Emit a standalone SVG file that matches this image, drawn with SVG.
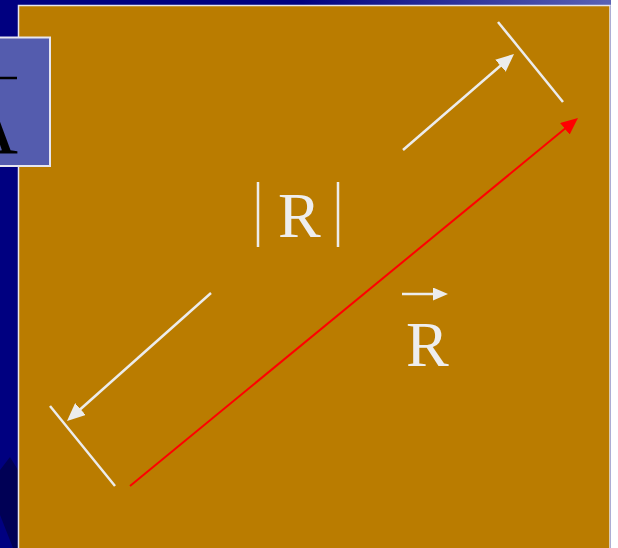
<svg xmlns="http://www.w3.org/2000/svg" width="618" height="548" viewBox="0 0 618 548">
  <defs>
    <linearGradient id="topGrad" x1="0" y1="0" x2="1" y2="0">
      <stop offset="0" stop-color="#000080"/>
      <stop offset="1" stop-color="#5A62B4"/>
    </linearGradient>
    <marker id="whiteHead" viewBox="0 0 18 16" refX="10" refY="8" markerWidth="18" markerHeight="16" markerUnits="userSpaceOnUse" orient="auto">
      <path d="M0,0 L18,8 L0,16 z" fill="#ECECEC"/>
    </marker>
    <marker id="smallHead" viewBox="0 0 15 13" refX="8" refY="6.5" markerWidth="15" markerHeight="13" markerUnits="userSpaceOnUse" orient="auto">
      <path d="M0,0 L15,6.5 L0,13 z" fill="#ECECEC"/>
    </marker>
    <marker id="redHead" viewBox="0 0 17 15" refX="9" refY="7.5" markerWidth="17" markerHeight="15" markerUnits="userSpaceOnUse" orient="auto">
      <path d="M0,0 L17,7.5 L0,15 z" fill="#FF0000"/>
    </marker>
  </defs>
  <style>
    .wline { stroke: #ECECEC; stroke-width: 2.5; fill: none; }
    .rline { stroke: #FF0000; stroke-width: 2; fill: none; }
    .label { font-family: "Liberation Serif", "Times New Roman", serif; font-size: 64px; fill: #EEEEEE; }
  </style>

  <!-- background -->
  <rect x="0" y="0" width="618" height="548" fill="#FFFFFF"/>
  <rect x="0" y="0" width="611" height="548" fill="#000080"/>
  <polygon points="300,0 611,0 611,6 306,6" fill="url(#topGrad)"/>
  <polygon points="10,457 18,470 18,548 13,548 0,515 0,470" fill="#000055"/>

  <!-- main panel -->
  <g id="panel">
    <rect x="18.5" y="5.5" width="591.5" height="560" fill="#BA7C00" stroke="#E6E6EE" stroke-width="1.5"/>
  </g>

  <!-- corner box with A (partly off the left edge, as in the reference) -->
  <g id="boxA">
    <rect x="-2" y="37.5" width="52" height="128.5" fill="#545CAE" stroke="#E6E6F0" stroke-width="2"/>
    <line x1="0" y1="78" x2="17" y2="78" stroke="#000000" stroke-width="2.5"/>
    <text x="18" y="153" text-anchor="end" font-family="'Liberation Serif', 'Times New Roman', serif" font-size="82" fill="#000000">A</text>
  </g>

  <!-- magnitude label -->
  <g id="magR">
    <line x1="258" y1="182" x2="258" y2="247" class="wline" stroke-width="2"/>
    <line x1="338" y1="182" x2="338" y2="247" class="wline" stroke-width="2"/>
    <text x="278" y="237" class="label">R</text>
  </g>

  <!-- vector label -->
  <g id="vecR">
    <line x1="402" y1="294" x2="441" y2="294" class="wline" marker-end="url(#smallHead)"/>
    <text x="406" y="366" class="label">R</text>
  </g>

  <!-- ticks -->
  <g id="tickTop">
    <line x1="498" y1="22" x2="563" y2="102" class="wline"/>
  </g>
  <g id="tickBottom">
    <line x1="50" y1="406" x2="115" y2="486" class="wline"/>
  </g>

  <!-- connectors -->
  <g id="connectors">
    <line x1="403" y1="150" x2="508" y2="59.2" class="wline" marker-end="url(#whiteHead)"/>
    <line x1="211" y1="293" x2="73" y2="415.7" class="wline" marker-end="url(#whiteHead)"/>
    <line x1="130" y1="486" x2="571.8" y2="123.1" class="rline" marker-end="url(#redHead)"/>
  </g>
</svg>
